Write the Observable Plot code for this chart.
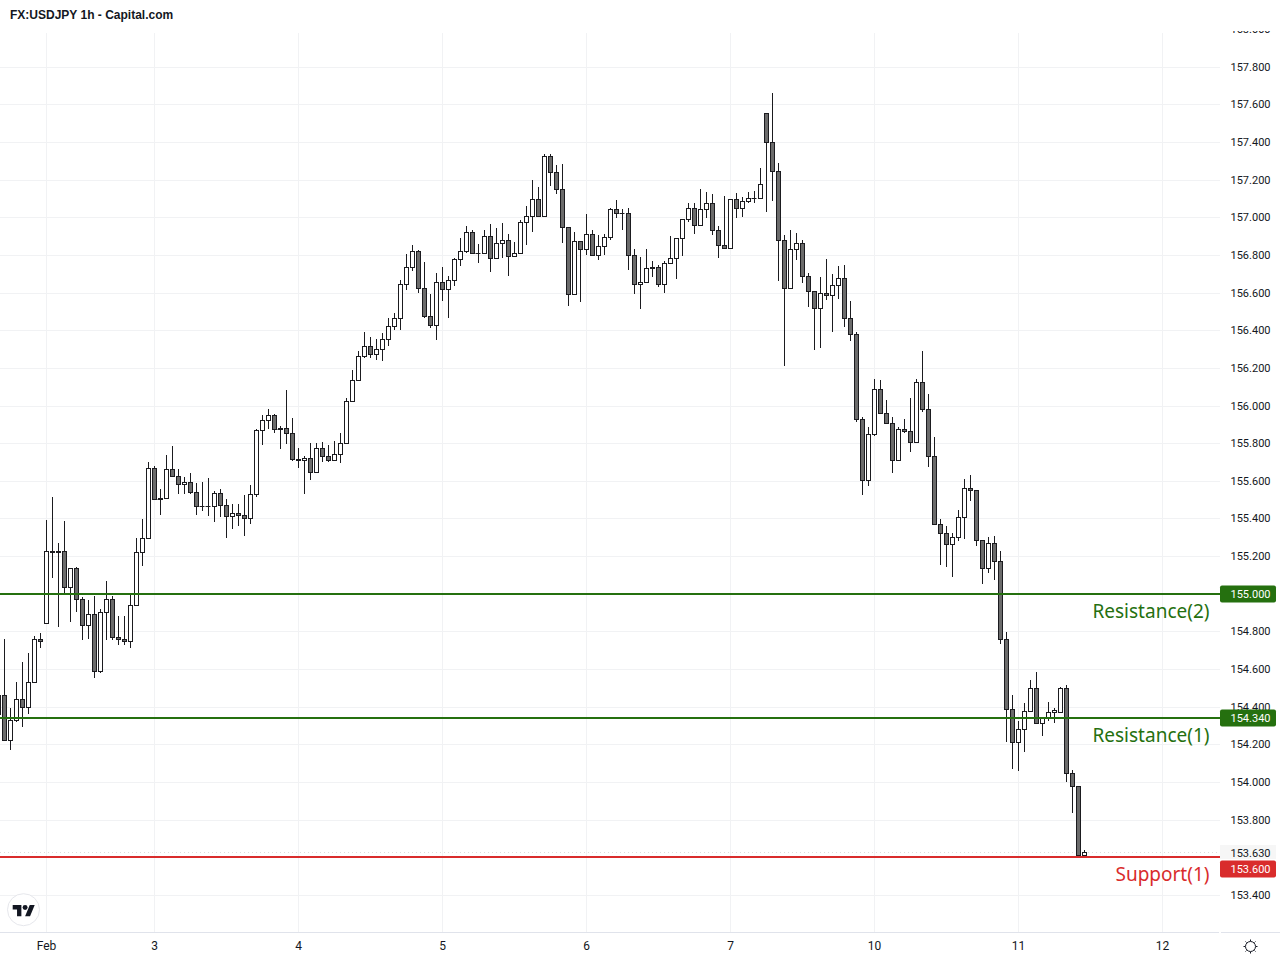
<!DOCTYPE html>
<html>
<head>
<meta charset="utf-8">
<script src="https://cdn.jsdelivr.net/npm/d3@7"></script>
<script src="https://cdn.jsdelivr.net/npm/@observablehq/plot@0.6"></script>
<style>
  html, body { margin: 0; padding: 0; background: #fff; }
  #page { position: relative; width: 1280px; height: 960px; overflow: hidden; }
  #title { height: 31px; line-height: 31px; padding-left: 10px; font: bold 12px/31px "Liberation Sans", Arial, sans-serif; color: #131722; }
  #overlay { position: absolute; left: 0; top: 0; pointer-events: none; }
</style>
</head>
<body>
<div id="page">
  <div id="title">FX:USDJPY 1h - Capital.com</div>
  <div id="chart"></div>
  <svg id="overlay" width="1280" height="960">
    <circle cx="23.5" cy="909.7" r="16" fill="#fff" stroke="#e6e7ec" stroke-width="1"></circle>
    <g transform="translate(12.7 902.6) scale(0.62)" fill="#131722">
      <path d="M14 22H7V11H0V4h14v18zM28 22h-8l7.5-18h8L28 22z"></path>
      <circle cx="20" cy="8" r="4"></circle>
    </g>
    <g transform="translate(1250.5 946.5)" fill="none" stroke="#131722" stroke-width="1">
      <circle r="5"></circle>
      <path d="M0-7V-5.5M0 5.5V7M-7 0H-5.5M5.5 0H7M-5 -5L-4 -4M4 4L5 5M5 -5L4 -4M-4 4L-5 5"></path>
    </g>
  </svg>
</div>
<script>
const open = [
154.460,154.460,154.222,154.329,154.440,154.398,154.531,154.759,154.844,155.227,
155.227,155.227,155.035,155.136,154.972,154.834,154.892,154.589,154.903,154.972,
154.770,154.759,154.749,154.940,155.221,155.296,155.668,155.508,155.508,155.662,
155.625,155.583,155.593,155.540,155.466,155.466,155.466,155.535,155.471,155.413,
155.429,155.418,155.402,155.530,155.870,155.923,155.949,155.880,155.880,155.854,
155.716,155.710,155.721,155.647,155.774,155.732,155.710,155.742,155.801,156.024,
156.135,156.263,156.316,156.274,156.300,156.353,156.422,156.465,156.645,156.736,
156.821,156.624,156.475,156.428,156.656,156.619,156.667,156.778,156.821,156.922,
156.810,156.810,156.900,156.784,156.863,156.879,156.794,156.810,156.975,157.007,
157.097,157.007,157.326,157.241,157.150,156.948,156.592,156.874,156.831,156.911,
156.800,156.847,156.895,157.044,157.023,157.023,156.800,156.645,156.656,156.736,
156.736,156.645,156.757,156.784,156.890,156.991,157.049,156.959,157.044,157.076,
156.932,156.853,156.837,157.097,157.049,157.086,157.102,157.102,157.554,157.400,
157.246,156.879,156.624,156.831,156.863,156.688,156.608,156.518,156.598,156.587,
156.640,156.677,156.465,156.380,155.928,155.604,155.848,156.088,155.960,155.907,
155.710,155.875,155.864,155.806,156.125,155.981,155.732,155.370,155.322,155.264,
155.301,155.407,155.561,155.551,155.285,155.136,155.269,155.174,154.759,154.387,
154.212,154.281,154.377,154.499,154.313,154.345,154.371,154.371,154.499,154.047,
153.978,153.613];
const high = [
154.460,154.759,154.393,154.531,154.637,154.685,154.775,154.791,155.391,155.514,
155.269,155.386,155.136,155.142,154.982,154.966,154.988,154.919,155.067,154.988,
154.881,154.881,155.004,155.296,155.397,155.700,155.678,155.556,155.737,155.785,
155.662,155.620,155.641,155.588,155.593,155.615,155.546,155.556,155.503,155.476,
155.476,155.524,155.577,155.875,155.949,155.981,155.955,155.891,156.082,155.933,
155.774,155.732,155.801,155.801,155.806,155.790,155.811,155.854,156.040,156.188,
156.289,156.390,156.364,156.353,156.385,156.465,156.491,156.667,156.805,156.853,
156.826,156.762,156.592,156.704,156.736,156.688,156.784,156.890,156.954,156.935,
156.858,156.934,156.964,156.945,156.970,156.911,156.869,156.986,157.060,157.198,
157.161,157.336,157.336,157.278,157.283,156.948,156.922,156.874,157.017,156.932,
156.906,156.911,157.049,157.092,157.044,157.049,156.831,156.789,156.831,156.768,
156.746,156.768,156.900,156.890,156.991,157.076,157.076,157.150,157.134,157.124,
156.954,157.113,157.097,157.129,157.108,157.134,157.140,157.262,157.554,157.660,
157.288,156.906,156.932,156.916,156.879,156.704,156.608,156.683,156.778,156.699,
156.741,156.746,156.555,156.390,155.939,155.886,156.141,156.135,156.029,155.939,
155.886,155.928,156.040,156.141,156.289,156.061,155.832,155.397,155.360,155.322,
155.445,155.609,155.631,155.551,155.285,155.301,155.306,155.227,154.796,154.462,
154.323,154.419,154.541,154.584,154.345,154.424,154.393,154.504,154.515,154.063,
153.978,153.637];
const low = [
154.362,154.222,154.168,154.316,154.290,154.359,154.531,154.710,154.837,155.081,
154.821,155.004,154.848,154.901,154.752,154.757,154.550,154.577,154.752,154.752,
154.725,154.725,154.710,154.940,155.145,155.296,155.496,155.416,155.501,155.625,
155.528,155.528,155.528,155.416,155.438,155.411,155.379,155.406,155.294,155.342,
155.358,155.305,155.368,155.512,155.788,155.875,155.852,155.767,155.793,155.703,
155.666,155.528,155.602,155.647,155.700,155.700,155.705,155.694,155.801,156.024,
156.130,156.252,156.252,156.242,156.236,156.316,156.401,156.401,156.614,156.715,
156.598,156.465,156.412,156.348,156.555,156.465,156.635,156.741,156.810,156.810,
156.757,156.810,156.709,156.784,156.784,156.688,156.794,156.810,156.853,156.922,
157.007,157.007,157.166,157.124,156.863,156.529,156.592,156.550,156.800,156.800,
156.773,156.800,156.879,156.996,156.932,156.720,156.592,156.513,156.656,156.683,
156.629,156.598,156.757,156.672,156.794,156.975,156.911,156.954,156.996,156.906,
156.784,156.837,156.837,156.996,157.001,157.076,157.076,157.097,157.028,157.085,
156.660,156.208,156.624,156.771,156.649,156.521,156.293,156.304,156.559,156.389,
156.566,156.415,156.341,155.912,155.524,155.572,155.838,155.960,155.907,155.639,
155.710,155.854,155.751,155.806,155.965,155.673,155.365,155.151,155.140,155.087,
155.280,155.290,155.492,155.253,155.050,155.110,155.073,154.733,154.214,154.068,
154.058,154.157,154.371,154.307,154.244,154.323,154.313,154.366,153.999,153.835,
153.613,153.613];
const close = [
154.362,154.222,154.329,154.440,154.398,154.531,154.759,154.749,155.227,155.220,
155.220,155.035,155.136,154.972,154.834,154.892,154.589,154.903,154.972,154.770,
154.759,154.749,154.940,155.221,155.296,155.668,155.503,155.503,155.662,155.625,
155.583,155.593,155.540,155.466,155.466,155.466,155.535,155.471,155.413,155.429,
155.418,155.402,155.530,155.870,155.923,155.949,155.875,155.875,155.854,155.716,
155.710,155.721,155.647,155.774,155.732,155.710,155.742,155.801,156.024,156.135,
156.263,156.316,156.274,156.300,156.353,156.422,156.465,156.645,156.736,156.821,
156.624,156.475,156.428,156.656,156.619,156.667,156.778,156.821,156.922,156.810,
156.810,156.900,156.784,156.863,156.879,156.794,156.810,156.975,157.007,157.097,
157.007,157.326,157.241,157.150,156.948,156.592,156.874,156.831,156.911,156.800,
156.847,156.895,157.044,157.023,157.023,156.800,156.645,156.656,156.730,156.730,
156.645,156.757,156.784,156.890,156.991,157.049,156.959,157.044,157.076,156.932,
156.853,156.837,157.097,157.049,157.086,157.102,157.102,157.177,157.400,157.246,
156.879,156.624,156.831,156.863,156.688,156.608,156.518,156.598,156.587,156.640,
156.677,156.465,156.380,155.928,155.604,155.848,156.088,155.960,155.907,155.710,
155.875,155.864,155.806,156.125,155.981,155.732,155.370,155.322,155.264,155.301,
155.407,155.561,155.551,155.285,155.136,155.269,155.174,154.759,154.387,154.212,
154.281,154.377,154.499,154.313,154.345,154.371,154.382,154.499,154.047,153.978,
153.613,153.630];

const dayBars = [8, 26, 50, 74, 98, 122, 146, 170, 194];
const dayLabels = ["Feb", "3", "4", "5", "6", "7", "10", "11", "12"];
const gridPrices = [153.4,153.6,153.8,154.0,154.2,154.4,154.6,154.8,155.0,155.2,155.4,155.6,155.8,156.0,156.2,156.4,156.6,156.8,157.0,157.2,157.4,157.6,157.8,158.0];
const axisPrices = [153.4,153.8,154.0,154.2,154.4,154.6,154.8,155.2,155.4,155.6,155.8,156.0,156.2,156.4,156.6,156.8,157.0,157.2,157.4,157.6,157.8,158.0];
const levelPrices = [155.0, 154.34, 153.6];
const levelNames = ["Resistance(2)", "Resistance(1)", "Support(1)"];
const levelColors = ["#25700f", "#25700f", "#d92c2c"];
const supportTagShift = 12;
const lastPrice = [153.63];

const bars = d3.range(open.length);
const up = bars.filter(i => close[i] >= open[i]);
const down = bars.filter(i => close[i] < open[i]);
const flat = bars.filter(i => Math.abs(close[i] - open[i]) < 0.006);
const levelIdx = d3.range(levelPrices.length);
const resistance = levelIdx.slice(0, 2);
const support = levelIdx.slice(2);
const axisFont = "Roboto, sans-serif";
const nameFont = "Noto Sans, sans-serif";
const ink = "#1b1b1f";
const gridColor = "#f1f2f4";
const plotRight = 203.6667, tagRight = 213, tagText = 205.33, nameRight = 201.83;

const chart = Plot.plot({
  width: 1280,
  height: 929,
  marginLeft: 0,
  marginRight: 60,
  marginTop: 2,
  marginBottom: 27,
  style: {background: "#fff", overflow: "hidden", display: "block"},
  x: {type: "linear", domain: [1/3, plotRight], round: true},
  y: {type: "linear", domain: [153.1971, 157.9793], round: true},
  marks: [
    Plot.gridX(dayBars, {stroke: gridColor, strokeOpacity: 1}),
    Plot.gridY(gridPrices, {stroke: gridColor, strokeOpacity: 1}),
    Plot.ruleY(lastPrice, {stroke: "#dcdcdc", strokeDasharray: "1 3"}),
    Plot.ruleX(bars, {x: i => i, y1: i => low[i], y2: i => high[i], stroke: ink, strokeWidth: 1}),
    Plot.rect(up, {x1: i => i - 1/3, x2: i => i + 1/3, y1: i => open[i], y2: i => close[i], fill: "#fff", stroke: ink, strokeWidth: 1, dx: 0.5, dy: 0.5}),
    Plot.rect(down, {x1: i => i - 1/3, x2: i => i + 1/3, y1: i => open[i], y2: i => close[i], fill: "#6b6b6b", stroke: ink, strokeWidth: 1, dx: 0.5, dy: 0.5}),
    Plot.ruleY(flat, {x1: i => i - 1/3, x2: i => i + 1/3, y: i => close[i], stroke: ink, strokeWidth: 1, strokeLinecap: "square"}),
    Plot.ruleY(levelIdx, {y: i => levelPrices[i], stroke: i => levelColors[i], strokeWidth: 2, dy: -0.5}),
    Plot.axisY({anchor: "right", ticks: axisPrices, tickFormat: ".3f", tickSize: 0, tickPadding: 10, label: null, fontSize: 11, fontFamily: axisFont, fill: "#131722"}),
    Plot.axisX({ticks: dayBars, tickFormat: d => dayLabels[dayBars.indexOf(d)], tickSize: 0, tickPadding: 8, label: null, fontSize: 12, fontFamily: axisFont, fill: "#131722"}),
    Plot.ruleY([153.1971], {x2: plotRight - 0.1, stroke: "#e0e3eb", strokeWidth: 1, dy: -1}),
    Plot.ruleY([153.1971], {x1: plotRight + 0.2, x2: tagRight + 2, stroke: "#e0e3eb", strokeWidth: 1, dy: -1}),
    Plot.rect(resistance, {x1: plotRight, x2: tagRight, y1: i => levelPrices[i], y2: i => levelPrices[i], insetTop: -8.5, insetBottom: -8.5, fill: i => levelColors[i], rx: 2}),
    Plot.text(resistance, {x: tagText, y: i => levelPrices[i], text: i => levelPrices[i].toFixed(3), textAnchor: "start", fontSize: 11, fontFamily: axisFont, fill: "#fff"}),
    Plot.text(levelIdx, {x: nameRight, y: i => levelPrices[i], text: i => levelNames[i], textAnchor: "end", fontSize: 19, fontFamily: nameFont, fill: i => levelColors[i], dy: 17}),
    Plot.rect(lastPrice, {x1: plotRight, x2: tagRight, y1: d => d, y2: d => d, insetTop: -7, insetBottom: -7, fill: "#f6f6f6"}),
    Plot.text(lastPrice, {x: tagText, y: d => d, text: d => d.toFixed(3), textAnchor: "start", fontSize: 11, fontFamily: axisFont, fill: "#131722", dy: 0.5}),
    Plot.rect(support, {x1: plotRight, x2: tagRight, y1: i => levelPrices[i], y2: i => levelPrices[i], insetTop: -8.5, insetBottom: -8.5, fill: i => levelColors[i], dy: supportTagShift, rx: 2}),
    Plot.text(support, {x: tagText, y: i => levelPrices[i], text: i => levelPrices[i].toFixed(3), textAnchor: "start", fontSize: 11, fontFamily: axisFont, fill: "#fff", dy: supportTagShift})
  ]
});
document.getElementById("chart").appendChild(chart);
</script>
</body>
</html>
